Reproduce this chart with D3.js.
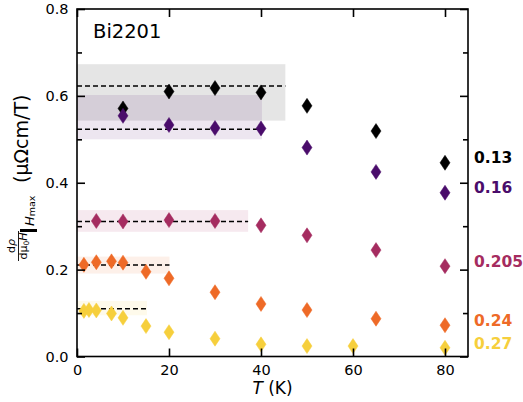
<!DOCTYPE html>
<html>
<head>
<meta charset="utf-8">
<script src="https://cdn.jsdelivr.net/npm/d3@7"></script>
<style>
  html, body { margin: 0; padding: 0; background: #fff; }
  svg { display: block; font-family: "DejaVu Sans", sans-serif; }
</style>
</head>
<body>
<svg id="chart" width="523" height="402"></svg>
<script>
// ---------------- data ----------------
const dopings = ["0.13", "0.16", "0.205", "0.24", "0.27"];
const colors = ["#000000", "#4a0c6b", "#a52c60", "#ee6a27", "#f6cf3c"];

const T013 = [10, 20, 30, 40, 50, 65, 80];
const V013 = [0.571, 0.610, 0.618, 0.608, 0.577, 0.519, 0.446];

const T016 = [10, 20, 30, 40, 50, 65, 80];
const V016 = [0.554, 0.533, 0.526, 0.525, 0.481, 0.425, 0.377];

const T0205 = [4.2, 10, 20, 30, 40, 50, 65, 80];
const V0205 = [0.312, 0.311, 0.314, 0.312, 0.302, 0.279, 0.245, 0.208];

const T024 = [1.5, 4.2, 7.5, 10, 15, 20, 30, 40, 50, 65, 80];
const V024 = [0.211, 0.217, 0.219, 0.216, 0.195, 0.180, 0.148, 0.121, 0.107, 0.087, 0.072];

const T027 = [1.5, 2.6, 4.2, 7.5, 10, 15, 20, 30, 40, 50, 60, 80];
const V027 = [0.105, 0.107, 0.106, 0.099, 0.089, 0.070, 0.056, 0.041, 0.028, 0.024, 0.024, 0.020];

// plateau (dashed) level, band low/high, band end temperature
const plateauLevel = [0.623, 0.523, 0.311, 0.2105, 0.110];
const bandLow      = [0.543, 0.500, 0.287, 0.191, 0.095];
const bandHigh     = [0.673, 0.602, 0.337, 0.230, 0.128];
const bandEndT     = [45.3, 40.2, 37.2, 20.1, 15.2];

const xTicks = [0, 20, 40, 60, 80];
const yMajor = [0, 0.2, 0.4, 0.6, 0.8];
const yMinor = [0.1, 0.3, 0.5, 0.7];

const Ts = [T013, T016, T0205, T024, T027];
const Vs = [V013, V016, V0205, V024, V027];

// ---------------- chart ----------------
const svg = d3.select("#chart");
const x = d3.scaleLinear().domain([0, 85]).range([77, 468]);
const y = d3.scaleLinear().domain([0, 0.8]).range([356.5, 9]);

const series = dopings.map((d, i) => ({
  name: d, color: colors[i],
  pts: Ts[i].map((t, j) => ({ t, v: Vs[i][j] })),
  level: plateauLevel[i], lo: bandLow[i], hi: bandHigh[i], end: bandEndT[i]
}));

// bands
svg.append("g").selectAll("rect").data(series).join("rect")
  .attr("x", x(0)).attr("width", d => x(d.end) - x(0))
  .attr("y", d => y(d.hi)).attr("height", d => y(d.lo) - y(d.hi))
  .attr("fill", d => d.color).attr("fill-opacity", 0.1);

// dashed plateau lines
svg.append("g").selectAll("line").data(series).join("line")
  .attr("x1", x(0)).attr("x2", d => x(d.end))
  .attr("y1", d => y(d.level)).attr("y2", d => y(d.level))
  .attr("stroke", "#000").attr("stroke-width", 1.5).attr("stroke-dasharray", "5,3");

// diamonds
const dw = 5, dh = 7.5;
const diamond = `M0,${-dh}L${dw},0L0,${dh}L${-dw},0Z`;
series.forEach(s => {
  svg.append("g").selectAll("path").data(s.pts).join("path")
    .attr("d", diamond)
    .attr("transform", p => `translate(${x(p.t)},${y(p.v)})`)
    .attr("fill", s.color).attr("stroke", s.color).attr("stroke-width", 0.5);
});

// axes
function styleAxis(g, labels) {
  g.select(".domain").remove();
  g.selectAll(".tick line").attr("stroke", "#000").attr("stroke-width", 1.6);
  g.selectAll(".tick text").attr("font-size", "14.5px").attr("fill", "#000")
    .attr("font-family", "DejaVu Sans");
  if (!labels) g.selectAll(".tick text").remove();
}
const fmt = d3.format(".1f");
svg.append("g").attr("transform", `translate(${x(0)},0)`)
  .call(d3.axisLeft(y).tickValues(yMajor).tickSize(-8).tickPadding(8.5).tickFormat(fmt))
  .call(g => styleAxis(g, true));
svg.append("g").attr("transform", `translate(${x(0)},0)`)
  .call(d3.axisLeft(y).tickValues(yMinor).tickSize(-5))
  .call(g => styleAxis(g, false));
svg.append("g").attr("transform", `translate(${x(85)},0)`)
  .call(d3.axisRight(y).tickValues(yMajor).tickSize(-8))
  .call(g => styleAxis(g, false));
svg.append("g").attr("transform", `translate(${x(85)},0)`)
  .call(d3.axisRight(y).tickValues(yMinor).tickSize(-5))
  .call(g => styleAxis(g, false));
svg.append("g").attr("transform", `translate(0,${y(0)})`)
  .call(d3.axisBottom(x).tickValues(xTicks).tickSize(-8).tickPadding(8).tickFormat(d3.format("d")))
  .call(g => styleAxis(g, true));
svg.append("g").attr("transform", `translate(0,${y(0.8)})`)
  .call(d3.axisTop(x).tickValues(xTicks).tickSize(-8))
  .call(g => styleAxis(g, false));

// frame
svg.append("rect").attr("x", x(0)).attr("y", y(0.8))
  .attr("width", x(85) - x(0)).attr("height", y(0) - y(0.8))
  .attr("fill", "none").attr("stroke", "#000").attr("stroke-width", 1.6);

// title
svg.append("text").attr("x", 93).attr("y", 38.3).attr("font-size", "19.5px").text("Bi2201");

// right labels
const labelY = [163, 193, 267, 326, 349];
svg.append("g").selectAll("text").data(series).join("text")
  .attr("x", 474).attr("y", (d, i) => labelY[i])
  .attr("font-size", "15.5px").attr("font-weight", "bold")
  .attr("fill", d => d.color).text(d => d.name);

// x label
const xl = svg.append("text").attr("x", 272.5).attr("y", 394).attr("text-anchor", "middle")
  .attr("font-size", "17px");
xl.append("tspan").attr("font-style", "italic").text("T");
xl.append("tspan").text(" (K)");

// y label (rotated)
const yl = svg.append("g").attr("transform", "translate(0,183) rotate(-90)");
// fraction: local x = 183 - screenY, local y = screenX
const fracC = -63;
yl.append("text").attr("x", fracC).attr("y", 15).attr("text-anchor", "middle").attr("font-size", "11px")
  .call(t => { t.append("tspan").text("d"); t.append("tspan").attr("font-style", "italic").text("ρ"); });
yl.append("line").attr("x1", fracC - 15).attr("x2", fracC + 15).attr("y1", 18.5).attr("y2", 18.5)
  .attr("stroke", "#000").attr("stroke-width", 0.9);
yl.append("text").attr("x", fracC).attr("y", 27).attr("text-anchor", "middle").attr("font-size", "11px")
  .call(t => {
    t.append("tspan").text("dμ");
    t.append("tspan").attr("font-size", "7.5px").attr("dy", 2).text("0");
    t.append("tspan").attr("font-style", "italic").attr("dy", -2).text("H");
  });
// evaluation bar
yl.append("rect").attr("x", -49).attr("y", 20).attr("width", 3).attr("height", 17).attr("fill", "#000");
// H_max subscript
yl.append("text").attr("x", -43).attr("y", 33.5).attr("font-size", "13px")
  .call(t => {
    t.append("tspan").attr("font-style", "italic").text("H");
    t.append("tspan").attr("font-size", "9.5px").attr("dy", 1.5).text("max");
  });
yl.append("text").attr("x", 0).attr("y", 27.5).attr("font-size", "19px").text("(μΩcm/T)");
</script>
</body>
</html>
